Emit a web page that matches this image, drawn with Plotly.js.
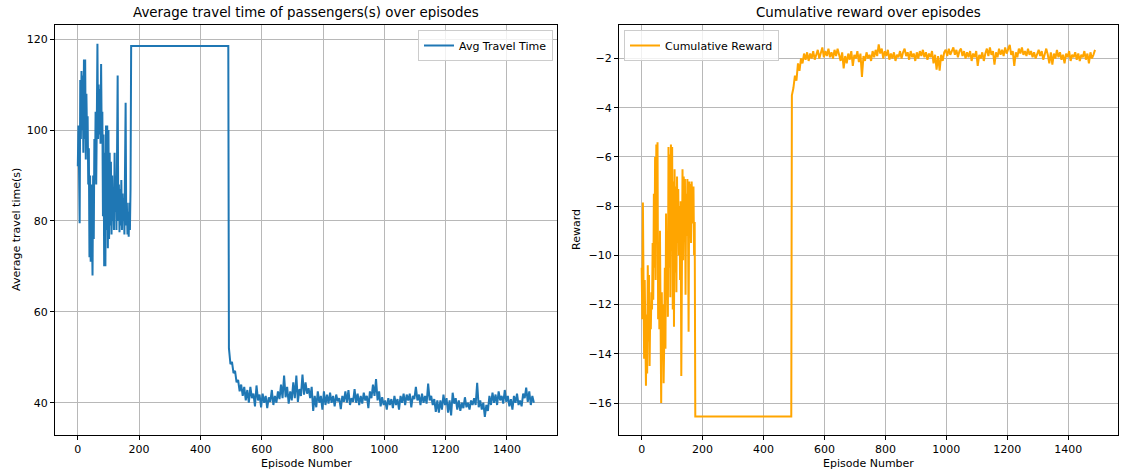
<!DOCTYPE html>
<html>
<head>
<meta charset="utf-8">
<script src="https://cdn.plot.ly/plotly-3.0.1.min.js"></script>
<style>html,body{margin:0;padding:0;background:#fff;}#chart{width:1122px;height:472px;}</style>
</head>
<body>
<div id="chart"></div>
<script>
// ---------------- DATA ----------------
// Early phase: episodes 0,2,4,... (sampled every 2 episodes)
const earlyStep = 2;
const avgTravelEarly = [92,101,91,79.5,111,98,113,100,112,95,115.5,98,115.5,93.5,108,99,103,88,96,72,
  90,71,88,70,68,90,76,98,89,104,88,102,119,98,110,99,109,97,114.5,98,
  104,81,99,70,95,70,101,78,101,74,100,76,95,79,93,77,90,80,85,78,
  95,82,89,78,92,112,80,88,77.5,87,79,89,78,86,80,85,77,89,106,79,
  84,77,82,76.5,84,78,87,118.5,118.5];
const rewardEarly = [-10.5,-12.6,-7.85,-12,-14.2,-11,-14.3,-15.3,-12.4,-14.8,-10.4,-13.5,-10.8,-14.5,-12.3,-13,-11.5,-12.2,-9.5,-11.8,
  -7.5,-10.5,-6,-11,-5.5,-8,-5.4,-12.6,-9.5,-13,-9,-14.6,-16,-11.5,-14,-12,-15.2,-13.5,-10.5,-13.8,
  -8.3,-11.8,-9.5,-12.5,-5.6,-10.5,-5.9,-11.7,-5.5,-9.8,-5.6,-12.2,-7,-12.9,-6.5,-10.7,-7.2,-11.5,-6.8,-9.5,
  -7.3,-10,-8,-11,-7.8,-14.9,-8.5,-6.5,-10.2,-6.8,-9,-6.9,-11.6,-7.5,-9.2,-6.9,-8.4,-13.1,-7,-8.6,
  -7.1,-9.5,-7,-8.5,-8.7,-7.2,-10,-8.65,-16.55];

// Plateau phase (identical values repeated)
const flatEndEpisode = 491;
const avgTravelFlat = 118.5;
const rewardFlat = -16.55;

// Late phase: episodes 493, 498, 503, ... (sampled every 5 episodes)
const lateStart = 493;
const lateStep = 5;
const avgTravelLate = [52,48.5,49,46.5,47,44.5,45,42.5,44,41.5,43.5,40.5,42.8,40,43.5,41,42,39.2,43.8,40.5,
  41.8,39,42,40,41.5,38.8,41.2,40.2,42.8,39.5,41.5,40,42.5,40.8,44,41,46,41.2,43.5,39.8,
  42.5,40.5,44.5,41,46,40.2,43,41.5,46.2,41.8,44.5,42,43.2,41,43.5,38.2,41.5,39,42.5,40,
  41.5,38.5,42.5,39.5,41.8,39.8,42.2,40,41.5,39.2,41.8,40.3,41,38.6,41.5,40.2,42.5,40,42.8,39.5,
  41,40.2,43,40,42,39.5,41.5,39.8,42.2,40.5,41.5,38.8,42.5,41,44,41.5,45.2,40.5,42.5,39.2,
  41.2,39.5,40.5,38.5,41,39.5,40.8,38.8,41.5,39.5,40.8,38.5,41.5,40,42,39.5,41.8,40.5,42,39,
  41.5,40.8,43.5,40.5,41.8,39.5,42,40,41.5,39.8,44.2,40.5,41.5,39.5,40.8,38,40.5,37.8,40.5,38.5,
  41.8,39.5,41,37.8,40.5,37.2,42.2,39.8,41,38.5,40.5,38.2,40,38.8,41.2,39,40,38.5,40.5,39.5,
  41,39.5,44.4,39,40.5,38.5,40,36.9,39.5,38.2,41.5,39.5,42.2,40,41.8,39.5,42.5,40.5,41.5,39.8,
  42.8,40.2,41.5,39.2,40.8,38.5,41.5,40,42,39.5,40.5,39.2,42,41,43.3,40.2,42.5,39.5,41.5,40];
const rewardLate = [-3.5,-3.2,-2.7,-2.9,-2.2,-2.5,-2.0,-2.2,-1.8,-2.05,-1.75,-2.1,-1.8,-2.0,-1.7,-2.05,-1.85,-1.65,-2.0,-1.75,
  -1.55,-1.95,-1.7,-1.9,-1.6,-1.95,-1.75,-2.0,-1.65,-1.9,-1.6,-1.85,-2.1,-1.75,-2.4,-1.9,-2.2,-1.8,-2.05,-1.7,
  -2.3,-1.85,-2.0,-1.7,-2.15,-1.8,-2.75,-1.9,-2.1,-1.75,-2.0,-1.85,-2.1,-1.7,-1.95,-1.65,-1.9,-1.43,-1.8,-1.6,
  -2.0,-1.7,-1.9,-1.65,-2.05,-1.8,-2.0,-1.75,-2.1,-1.85,-1.95,-1.7,-2.0,-1.75,-1.6,-1.9,-1.75,-2.05,-1.7,-1.95,
  -1.8,-2.1,-1.75,-2.0,-1.7,-1.9,-1.65,-1.95,-1.75,-2.05,-1.8,-1.95,-1.7,-2.2,-1.85,-2.45,-1.9,-2.5,-1.85,-2.1,
  -1.75,-1.65,-1.9,-1.6,-1.85,-1.7,-1.55,-1.85,-1.65,-1.95,-1.7,-1.6,-1.9,-1.7,-2.0,-1.75,-1.95,-1.7,-2.1,-1.8,
  -1.95,-1.7,-2.3,-1.85,-2.0,-1.75,-2.1,-1.8,-1.6,-1.9,-1.55,-1.85,-1.7,-2.25,-1.75,-1.95,-1.6,-1.85,-1.65,-1.9,
  -1.55,-1.8,-1.6,-1.45,-1.85,-1.7,-2.3,-1.75,-1.95,-1.6,-1.8,-1.55,-1.85,-1.7,-1.9,-1.6,-1.85,-1.7,-1.95,-1.75,
  -2.0,-1.8,-1.65,-1.9,-1.7,-2.05,-1.8,-1.6,-1.85,-2.2,-1.75,-2.25,-1.8,-2.0,-1.65,-1.95,-1.75,-2.05,-1.85,-2.2,
  -1.8,-1.95,-1.7,-2.1,-1.85,-1.95,-1.75,-2.05,-1.8,-2.1,-1.85,-1.95,-1.7,-2.05,-1.8,-2.2,-1.75,-2.0,-1.85,-1.65];

const xTickVals = [0,200,400,600,800,1000,1200,1400];
const avgTickVals = [40,60,80,100,120];
const rewardTickVals = [-16,-14,-12,-10,-8,-6,-4,-2];

// ---------------- assemble series ----------------
function build(early, flatVal, late) {
  const x = [], y = [];
  early.forEach((v, i) => { x.push(i * earlyStep); y.push(v); });
  x.push(flatEndEpisode); y.push(flatVal);
  late.forEach((v, i) => { x.push(lateStart + i * lateStep); y.push(v); });
  return {x, y};
}
const s1 = build(avgTravelEarly, avgTravelFlat, avgTravelLate);
const s2 = build(rewardEarly, rewardFlat, rewardLate);

const FONT = 'DejaVu Sans, sans-serif';
const traces = [
  {x: s1.x, y: s1.y, type: 'scatter', mode: 'lines', name: 'Avg Travel Time',
   line: {color: '#1f77b4', width: 2}, xaxis: 'x', yaxis: 'y', legend: 'legend'},
  {x: s2.x, y: s2.y, type: 'scatter', mode: 'lines', name: 'Cumulative Reward',
   line: {color: 'orange', width: 2}, xaxis: 'x2', yaxis: 'y2', legend: 'legend2'}
];

const W = 1122, H = 472;
const axisCommon = {
  showline: true, mirror: true, linecolor: '#000', linewidth: 1,
  ticks: 'outside', ticklen: 4, tickwidth: 1, tickcolor: '#000',
  showgrid: true, gridcolor: '#b8b8b8', gridwidth: 1, zeroline: false,
  tickfont: {family: FONT, size: 11, color: '#000'}, automargin: false
};
const yDom = [(H - 435) / H, (H - 25) / H];
const layout = {
  width: W, height: H,
  margin: {l: 0, r: 0, t: 0, b: 0},
  paper_bgcolor: '#fff', plot_bgcolor: '#fff',
  font: {family: FONT, size: 11, color: '#000'},
  xaxis: Object.assign({}, axisCommon, {domain: [55 / W, 557 / W], range: [-74.45, 1563.45], tickvals: xTickVals, anchor: 'y'}),
  yaxis: Object.assign({}, axisCommon, {domain: yDom, range: [32.9, 123.1], tickvals: avgTickVals, anchor: 'x'}),
  xaxis2: Object.assign({}, axisCommon, {domain: [619 / W, 1118 / W], range: [-74.45, 1563.45], tickvals: xTickVals, anchor: 'y2'}),
  yaxis2: Object.assign({}, axisCommon, {domain: yDom, range: [-17.3, -0.64], tickvals: rewardTickVals, anchor: 'x2'}),
  showlegend: true,
  legend: {x: 553 / W, xanchor: 'right', y: (H - 30) / H, yanchor: 'top',
    bgcolor: 'rgba(255,255,255,0.8)', bordercolor: '#cccccc', borderwidth: 1,
    font: {family: FONT, size: 11, color: '#000'}},
  legend2: {x: 624 / W, xanchor: 'left', y: (H - 30) / H, yanchor: 'top',
    bgcolor: 'rgba(255,255,255,0.8)', bordercolor: '#cccccc', borderwidth: 1,
    font: {family: FONT, size: 11, color: '#000'}},
  annotations: [
    {text: 'Average travel time of passengers(s) over episodes', xref: 'paper', yref: 'paper',
     x: 306 / W, y: (H - 12) / H, xanchor: 'center', yanchor: 'middle', showarrow: false,
     font: {family: FONT, size: 13.4, color: '#000'}},
    {text: 'Cumulative reward over episodes', xref: 'paper', yref: 'paper',
     x: 868.5 / W, y: (H - 12) / H, xanchor: 'center', yanchor: 'middle', showarrow: false,
     font: {family: FONT, size: 13.4, color: '#000'}},
    {text: 'Episode Number', xref: 'paper', yref: 'paper', x: 306 / W, y: (H - 463) / H,
     xanchor: 'center', yanchor: 'middle', showarrow: false, font: {family: FONT, size: 11, color: '#000'}},
    {text: 'Episode Number', xref: 'paper', yref: 'paper', x: 868.5 / W, y: (H - 463) / H,
     xanchor: 'center', yanchor: 'middle', showarrow: false, font: {family: FONT, size: 11, color: '#000'}},
    {text: 'Average travel time(s)', xref: 'paper', yref: 'paper', x: 16 / W, y: (H - 230) / H,
     xanchor: 'center', yanchor: 'middle', textangle: -90, showarrow: false, font: {family: FONT, size: 11, color: '#000'}},
    {text: 'Reward', xref: 'paper', yref: 'paper', x: 576 / W, y: (H - 230) / H,
     xanchor: 'center', yanchor: 'middle', textangle: -90, showarrow: false, font: {family: FONT, size: 11, color: '#000'}}
  ]
};
Plotly.newPlot('chart', traces, layout, {displayModeBar: false, staticPlot: true});
</script>
</body>
</html>
